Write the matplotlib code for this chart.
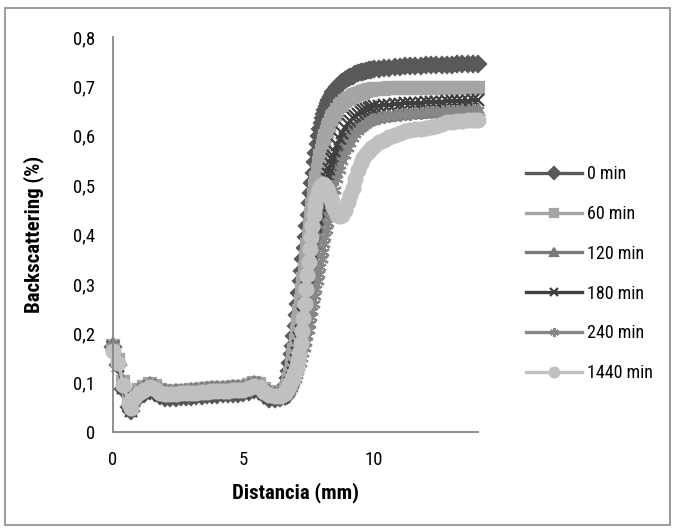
import matplotlib
matplotlib.use("Agg")
import matplotlib.pyplot as plt
from matplotlib.patches import Rectangle
from matplotlib.ticker import FuncFormatter, FixedLocator

plt.rcParams['font.family'] = ['Roboto Condensed', 'Liberation Sans', 'DejaVu Sans']

# Sampling positions along the tube (mm)
distance = [
    0.0, 0.2, 0.4, 0.6, 0.7, 0.8, 1.0, 1.2, 1.4, 1.6, 1.8, 2.0, 2.2, 2.4, 2.6, 2.8,
    3.0, 3.2, 3.4, 3.6, 3.8, 4.0, 4.2, 4.4, 4.6, 4.8, 5.0, 5.2, 5.4, 5.6, 5.8, 6.0,
    6.2, 6.4,
    6.5, 6.55, 6.6, 6.65, 6.7, 6.75, 6.8, 6.85, 6.9, 6.95, 7.0, 7.05, 7.1, 7.15,
    7.2, 7.25, 7.3, 7.35, 7.4, 7.45, 7.5, 7.55, 7.6, 7.65, 7.7, 7.75, 7.8, 7.85,
    7.9, 7.95, 8.0, 8.05, 8.1, 8.15, 8.2, 8.25, 8.3, 8.35, 8.4, 8.45, 8.5,
    8.6, 8.7, 8.8, 8.9, 9.0, 9.1, 9.2, 9.3, 9.4, 9.5, 9.6, 9.7, 9.8, 9.9, 10.0,
    10.2, 10.4, 10.6, 10.8, 11.0, 11.2, 11.4, 11.6, 11.8, 12.0, 12.2, 12.4, 12.6,
    12.8, 13.0, 13.2, 13.4, 13.6, 13.8, 14.0,
]

bs_0min = [
    0.172, 0.136, 0.088, 0.050, 0.042, 0.060, 0.072, 0.077, 0.084, 0.080, 0.072, 0.069,
    0.068, 0.069, 0.070, 0.070, 0.071, 0.072, 0.073, 0.074, 0.075, 0.075, 0.076, 0.076,
    0.077, 0.077, 0.078, 0.081, 0.085, 0.083, 0.074, 0.067, 0.066, 0.068,
    0.072, 0.076, 0.085, 0.096, 0.110, 0.124, 0.140, 0.157, 0.175, 0.195, 0.215, 0.237,
    0.260, 0.282, 0.305, 0.327, 0.350, 0.372, 0.395, 0.417, 0.440, 0.463, 0.485, 0.505,
    0.525, 0.546, 0.565, 0.583, 0.600, 0.613, 0.625, 0.636, 0.645, 0.653, 0.660, 0.667,
    0.673, 0.678, 0.683, 0.688, 0.692,
    0.699, 0.704, 0.709, 0.713, 0.717, 0.720, 0.722, 0.725, 0.727, 0.729, 0.730, 0.732,
    0.733, 0.734, 0.735,
    0.736, 0.737, 0.738, 0.739, 0.740, 0.741, 0.741, 0.742, 0.742, 0.743, 0.743, 0.743,
    0.744, 0.744, 0.744, 0.745, 0.745, 0.745, 0.746, 0.746,
]

bs_60min = [
    0.175, 0.146, 0.101, 0.064, 0.054, 0.074, 0.086, 0.091, 0.098, 0.094, 0.086, 0.083,
    0.082, 0.083, 0.084, 0.084, 0.085, 0.086, 0.087, 0.088, 0.089, 0.089, 0.090, 0.090,
    0.091, 0.091, 0.092, 0.095, 0.099, 0.097, 0.088, 0.081, 0.078, 0.079,
    0.078, 0.079, 0.082, 0.088, 0.096, 0.107, 0.120, 0.134, 0.150, 0.167, 0.185, 0.205,
    0.225, 0.245, 0.265, 0.287, 0.310, 0.332, 0.355, 0.378, 0.400, 0.420, 0.440, 0.460,
    0.480, 0.498, 0.515, 0.530, 0.545, 0.558, 0.570, 0.580, 0.590, 0.599, 0.607, 0.615,
    0.622, 0.629, 0.635, 0.640, 0.645,
    0.653, 0.660, 0.665, 0.670, 0.674, 0.677, 0.680, 0.683, 0.685, 0.687, 0.689, 0.690,
    0.692, 0.693, 0.694,
    0.695, 0.695, 0.696, 0.696, 0.696, 0.697, 0.697, 0.697, 0.697, 0.697, 0.697, 0.697,
    0.697, 0.697, 0.697, 0.697, 0.697, 0.697, 0.697, 0.697,
]

bs_120min = [
    0.178, 0.148, 0.103, 0.066, 0.056, 0.076, 0.088, 0.093, 0.100, 0.096, 0.088, 0.085,
    0.084, 0.085, 0.086, 0.086, 0.087, 0.088, 0.089, 0.090, 0.091, 0.091, 0.092, 0.092,
    0.093, 0.093, 0.094, 0.097, 0.101, 0.099, 0.090, 0.083, 0.080, 0.081,
    0.079, 0.079, 0.080, 0.082, 0.086, 0.091, 0.097, 0.105, 0.113, 0.123, 0.133, 0.145,
    0.158, 0.171, 0.185, 0.200, 0.215, 0.231, 0.248, 0.265, 0.282, 0.299, 0.316, 0.333,
    0.350, 0.367, 0.383, 0.399, 0.415, 0.430, 0.443, 0.456, 0.468, 0.479, 0.490, 0.500,
    0.510, 0.519, 0.528, 0.536, 0.544,
    0.558, 0.571, 0.582, 0.592, 0.600, 0.607, 0.613, 0.618, 0.622, 0.626, 0.629, 0.632,
    0.634, 0.636, 0.638,
    0.640, 0.642, 0.643, 0.645, 0.646, 0.647, 0.648, 0.648, 0.649, 0.650, 0.650, 0.651,
    0.652, 0.652, 0.653, 0.653, 0.654, 0.654, 0.655, 0.655,
]

bs_180min = [
    0.173, 0.134, 0.089, 0.052, 0.043, 0.062, 0.074, 0.079, 0.086, 0.082, 0.074, 0.071,
    0.070, 0.071, 0.072, 0.072, 0.073, 0.074, 0.075, 0.076, 0.077, 0.077, 0.078, 0.078,
    0.079, 0.079, 0.080, 0.083, 0.087, 0.085, 0.076, 0.069, 0.066, 0.067,
    0.068, 0.070, 0.074, 0.079, 0.085, 0.092, 0.100, 0.110, 0.120, 0.132, 0.145, 0.160,
    0.175, 0.190, 0.205, 0.222, 0.240, 0.257, 0.275, 0.292, 0.310, 0.327, 0.345, 0.362,
    0.380, 0.398, 0.415, 0.430, 0.445, 0.458, 0.470, 0.482, 0.493, 0.503, 0.513, 0.523,
    0.533, 0.543, 0.552, 0.560, 0.568,
    0.582, 0.594, 0.605, 0.615, 0.623, 0.630, 0.636, 0.641, 0.645, 0.649, 0.652, 0.654,
    0.656, 0.658, 0.660,
    0.661, 0.662, 0.663, 0.664, 0.665, 0.666, 0.666, 0.667, 0.667, 0.668, 0.668, 0.669,
    0.669, 0.670, 0.670, 0.670, 0.671, 0.671, 0.672, 0.672,
]

bs_240min = [
    0.176, 0.145, 0.100, 0.063, 0.053, 0.073, 0.085, 0.090, 0.097, 0.093, 0.085, 0.082,
    0.081, 0.082, 0.083, 0.083, 0.084, 0.085, 0.086, 0.087, 0.088, 0.088, 0.089, 0.089,
    0.090, 0.090, 0.091, 0.094, 0.098, 0.096, 0.087, 0.080, 0.077, 0.078,
    0.075, 0.074, 0.074, 0.075, 0.077, 0.080, 0.084, 0.089, 0.095, 0.101, 0.108, 0.115,
    0.123, 0.131, 0.140, 0.150, 0.160, 0.171, 0.182, 0.194, 0.206, 0.219, 0.232, 0.246,
    0.260, 0.275, 0.290, 0.305, 0.320, 0.335, 0.350, 0.365, 0.380, 0.395, 0.410, 0.424,
    0.438, 0.452, 0.465, 0.478, 0.490,
    0.512, 0.531, 0.548, 0.562, 0.575, 0.586, 0.595, 0.603, 0.610, 0.615, 0.620, 0.624,
    0.628, 0.631, 0.633,
    0.636, 0.638, 0.640, 0.642, 0.643, 0.644, 0.645, 0.646, 0.647, 0.648, 0.648, 0.649,
    0.650, 0.650, 0.651, 0.651, 0.652, 0.652, 0.653, 0.653,
]

bs_1440min = [
    0.165, 0.140, 0.095, 0.058, 0.048, 0.068, 0.080, 0.085, 0.092, 0.088, 0.080, 0.077,
    0.076, 0.077, 0.078, 0.078, 0.079, 0.080, 0.081, 0.082, 0.083, 0.083, 0.084, 0.084,
    0.085, 0.085, 0.086, 0.089, 0.093, 0.091, 0.082, 0.075, 0.072, 0.073,
    0.074, 0.076, 0.080, 0.085, 0.090, 0.095, 0.100, 0.106, 0.112, 0.118, 0.125, 0.134,
    0.145, 0.160, 0.180, 0.204, 0.230, 0.260, 0.290, 0.318, 0.345, 0.370, 0.395, 0.418,
    0.440, 0.457, 0.472, 0.483, 0.491, 0.497, 0.500, 0.502, 0.501, 0.498, 0.493, 0.487,
    0.480, 0.472, 0.465, 0.457, 0.450,
    0.440, 0.437, 0.440, 0.450, 0.465, 0.480, 0.495, 0.513, 0.530, 0.544, 0.555, 0.563,
    0.570, 0.576, 0.580,
    0.587, 0.592, 0.597, 0.602, 0.606, 0.610, 0.612, 0.613, 0.614, 0.615, 0.617, 0.620,
    0.624, 0.627, 0.628, 0.629, 0.630, 0.631, 0.632, 0.632,
]

series_labels = ["0 min", "60 min", "120 min", "180 min", "240 min", "1440 min"]
series_values = [bs_0min, bs_60min, bs_120min, bs_180min, bs_240min, bs_1440min]

colors = ["#595959", "#a5a5a5", "#7a7a7a", "#3f3f3f", "#878787", "#c0c0c0"]
markers = ["D", "s", "^", "x", (6, 2, 0), "o"]
msizes = [8.5, 9, 9, 8, 9, 10]

fig = plt.figure(figsize=(6.76, 5.31), dpi=100)
fig.patch.set_facecolor("white")
fig.patches.append(Rectangle((5 / 676, 1 - 525 / 531), 665 / 676, 517 / 531,
                             transform=fig.transFigure, fill=False,
                             edgecolor="#8a8a8a", linewidth=1.2))

ax = fig.add_axes([113 / 676, 1 - 432 / 531, 365 / 676, 395 / 531])

for label, vals, c, m, ms in zip(series_labels, series_values, colors, markers, msizes):
    ax.plot(distance, vals, color=c, linewidth=2.4, marker=m, markersize=ms,
            markerfacecolor=c, markeredgecolor=c, markeredgewidth=1.6,
            label=label, clip_on=False)

ax.set_xlim(0, 14)
ax.set_ylim(0, 0.8)
ax.xaxis.set_major_locator(FixedLocator([0, 5, 10]))
ax.yaxis.set_major_locator(FixedLocator([0, 0.1, 0.2, 0.3, 0.4, 0.5, 0.6, 0.7, 0.8]))


def comma_fmt(v, _pos):
    if abs(v) < 1e-9:
        return "0"
    return f"{v:g}".replace(".", ",")


ax.xaxis.set_major_formatter(FuncFormatter(comma_fmt))
ax.yaxis.set_major_formatter(FuncFormatter(comma_fmt))
ax.tick_params(axis="both", length=0, labelsize=13.5, colors="#000000")
ax.tick_params(axis="y", pad=13)
ax.tick_params(axis="x", pad=14)

for side in ("top", "right"):
    ax.spines[side].set_visible(False)
for side in ("left", "bottom"):
    ax.spines[side].set_color("#868686")
    ax.spines[side].set_linewidth(1.3)

ax.set_xlabel("Distancia (mm)", fontsize=15, fontweight="bold")
ax.set_ylabel("Backscattering (%)", fontsize=15, fontweight="bold")
ax.xaxis.set_label_coords(0.5, -0.128)
ax.yaxis.set_label_coords(-0.19, 0.5)

ax.legend(loc="upper left", bbox_to_anchor=(526 / 676, 1 - 165 / 531),
          bbox_transform=fig.transFigure, frameon=False, fontsize=13,
          handlelength=3.1, handletextpad=0.3, labelspacing=1.21,
          markerscale=0.7, borderpad=0, borderaxespad=0)

fig.savefig("out.png", dpi=100, facecolor="white")
